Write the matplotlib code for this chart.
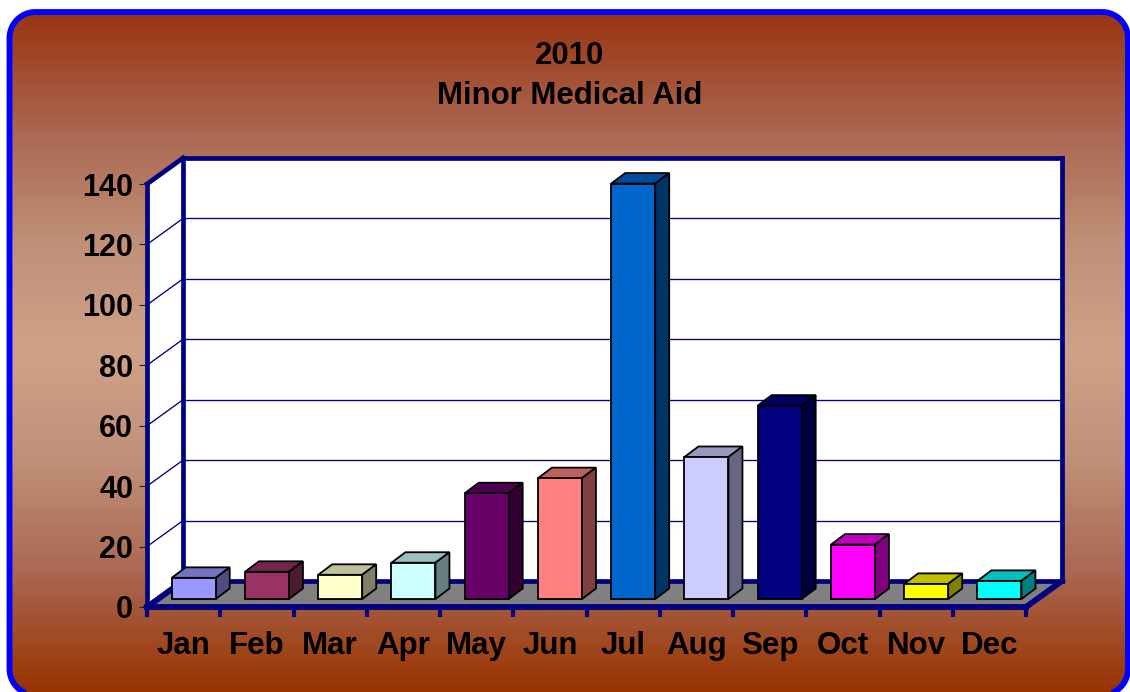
import numpy as np
import matplotlib
matplotlib.use("Agg")
import matplotlib.pyplot as plt
from matplotlib.patches import Polygon
from matplotlib.colors import LinearSegmentedColormap, to_rgb

months = ["Jan", "Feb", "Mar", "Apr", "May", "Jun", "Jul", "Aug", "Sep", "Oct", "Nov", "Dec"]
values = [7, 9, 8, 12, 35, 40, 137.5, 47, 64, 18, 5, 6]
colors = ["#9999FF", "#993366", "#FFFFCC", "#CCFFFF", "#660066", "#FF8080",
          "#0066CC", "#CCCCFF", "#000080", "#FF00FF", "#FFFF00", "#00FFFF"]
y_ticks = [0, 20, 40, 60, 80, 100, 120, 140]
title_lines = ["2010", "Minor Medical Aid"]

W, H = 1130, 692
plt.rcParams["font.family"] = ["Liberation Sans", "DejaVu Sans"]
plt.rcParams["font.weight"] = "bold"
fig = plt.figure(figsize=(W / 100, H / 100), dpi=100, facecolor="white")


def rounded_outline(left, top, right, bottom, r):
    a = np.linspace(0, np.pi / 2, 30)
    pts = []
    for cx, cy, start in [(right - r, top + r, -np.pi / 2), (right - r, bottom - r, 0),
                          (left + r, bottom - r, np.pi / 2), (left + r, top + r, np.pi)]:
        pts.append(np.column_stack([cx + r * np.cos(start + a), cy + r * np.sin(start + a)]))
    return np.vstack(pts)


# background panel
bg = fig.add_axes([0, 0, 1, 1], zorder=0)
bg.set_xlim(0, W); bg.set_ylim(H, 0); bg.axis("off")
cmap = LinearSegmentedColormap.from_list("b", [(0, "#993410"), (0.17, "#AA6650"), (0.34, "#C09078"), (0.5, "#CFA288"),
                                               (0.66, "#C09078"), (0.83, "#AA6650"), (1, "#993300")])
outline = rounded_outline(9.5, 12, 1128, 695, 26)
panel = Polygon(outline, closed=True, facecolor="none", edgecolor="none")
bg.add_patch(panel)
im = bg.imshow(np.linspace(0, 1, 256)[:, None], cmap=cmap, extent=(0, W, H, 12), aspect="auto", zorder=1)
im.set_clip_path(panel)
bg.set_xlim(0, W); bg.set_ylim(H, 0)
bg.add_patch(Polygon(outline, closed=True, facecolor="none", edgecolor="#0000FF", linewidth=4.2, zorder=2))

# plot axes: front frame of the 3-D box, 147..1026 px, y 607..184 px
x0, x1, y0, y1 = 147, 1026, 607, 184
ax = fig.add_axes([x0 / W, 1 - y0 / H, (x1 - x0) / W, (y0 - y1) / H], zorder=1)
ax.patch.set_visible(False)
ax.set_xlim(0, 12); ax.set_ylim(0, 140)
for s in ax.spines.values():
    s.set_visible(False)

px = 12 / (x1 - x0)
py = 140 / (y0 - y1)
DX, DY = 36 * px, 26 * py
ymax = 140
navy = "#000080"


def poly(pts, fc, ec="none", lw=0, z=1):
    ax.add_patch(Polygon(pts, closed=True, facecolor=fc, edgecolor=ec, linewidth=lw, zorder=z, clip_on=False,
                         joinstyle="miter"))


def line(xs, ys, lw, c=navy, z=2):
    ax.plot(xs, ys, color=c, linewidth=lw, zorder=z, clip_on=False, solid_capstyle="projecting")


# walls and floor
poly([(DX, DY), (12 + DX, DY), (12 + DX, ymax + DY), (DX, ymax + DY)], "white")
poly([(0, 0), (DX, DY), (DX, ymax + DY), (0, ymax)], "white")
poly([(0, 0), (12, 0), (12 + DX, DY), (DX, DY)], "#808080")

# gridlines
for t in y_ticks[1:-1]:
    line([DX, 12 + DX], [t + DY, t + DY], 0.95, z=1.5)
    line([0, DX], [t, t + DY], 0.95, z=1.5)

# frame
fw = 3.4
line([0, 0], [0, ymax], fw, z=3)
line([0, DX], [ymax, ymax + DY], fw, z=3)
line([DX, DX], [DY, ymax + DY], fw, z=3)
line([DX, 12 + DX], [ymax + DY, ymax + DY], fw, z=3)
line([12 + DX, 12 + DX], [DY, ymax + DY], fw, z=3)
line([DX, 12 + DX], [DY, DY], fw, z=3)
line([0, DX], [0, DY], fw + 0.8, z=3)
line([12, 12 + DX], [0, DY], fw + 0.8, z=3)
line([0, 12], [0, 0], fw + 0.8, z=3)

# bars
bar_l, bar_w = 24.7 * px, 44 * px
bx, by = 14 * px, 10.5 * py
base = 8 * py


def shade(c, f):
    return tuple(v * f for v in to_rgb(c))


for i, (v, c) in enumerate(zip(values, colors)):
    l, r = i + bar_l, i + bar_l + bar_w
    b, t = base, base + v
    kw = dict(ec="black", lw=1.3, z=4 + i * 0.01)
    poly([(l, t), (r, t), (r + bx, t + by), (l + bx, t + by)], shade(c, 0.75), **kw)
    poly([(r, b), (r + bx, b + by), (r + bx, t + by), (r, t)], shade(c, 0.5), **kw)
    poly([(l, b), (r, b), (r, t), (l, t)], c, **kw)

# ticks and labels
ax.set_yticks(y_ticks)
ax.tick_params(axis="y", length=5.5, width=0.8, color="#222222", pad=4.5, labelsize=22, labelcolor="black")
ax.set_xticks(np.arange(13))
ax.set_xticklabels([])
ax.tick_params(axis="x", which="major", length=7, width=3, color=navy)
ax.set_xticks(np.arange(12) + 0.5, minor=True)
ax.set_xticklabels(months, minor=True, fontsize=22.5)
ax.tick_params(axis="x", which="minor", length=0, pad=17, labelcolor="black")

# title
fig.text(570 / W, 1 - 55.5 / H, title_lines[0], ha="center", va="center", fontsize=22.4, color="black", zorder=5)
fig.text(570 / W, 1 - 96.5 / H, title_lines[1], ha="center", va="center", fontsize=22.4, color="black", zorder=5)

fig.savefig("out.png", dpi=100)
